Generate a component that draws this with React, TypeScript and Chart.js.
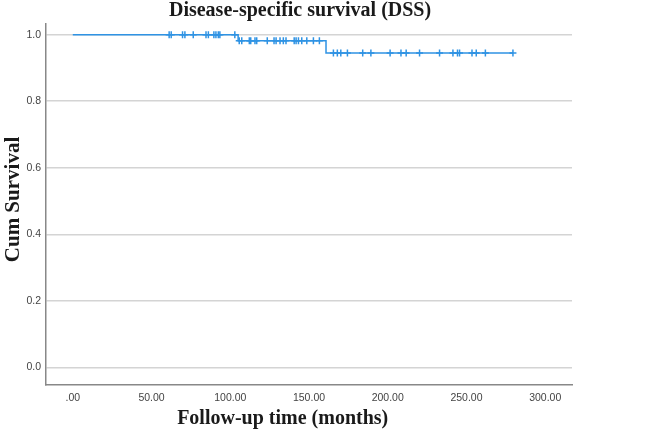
import React, { useEffect, useRef } from 'react';
import { Chart, registerables } from 'chart.js';

Chart.register(...registerables);

// Kaplan-Meier step curve (time in months, cumulative survival)
const stepTimes = [0, 105, 160.8, 279.5];
const stepSurvival = [1.0, 0.982, 0.945, 0.945];

// Censored observations on each survival level
const censorTimesLevel1 = [61.2, 62.5, 69.7, 71.2, 76.5, 84.6, 86.1, 89.6, 90.9, 92.4, 93.4, 102.9];
const censorTimesLevel2 = [105.7, 107.3, 112.1, 113, 115.7, 116.8, 123.5, 127.8, 129.1, 131.6, 133.7, 135.4, 140.6, 141.8, 143.3, 145.4, 148.6, 152.8, 156.6];
const censorTimesLevel3 = [165.5, 168, 170.2, 174.4, 184.1, 189.3, 201.5, 208.4, 211.7, 220.2, 232.9, 241.4, 244.3, 245.6, 253.5, 256.2, 262, 279.5];

const xTickValues = [0, 50, 100, 150, 200, 250, 300];
const xTickLabels = ['.00', '50.00', '100.00', '150.00', '200.00', '250.00', '300.00'];
const yTickValues = [0, 0.2, 0.4, 0.6, 0.8, 1.0];
const yTickLabels = ['0.0', '0.2', '0.4', '0.6', '0.8', '1.0'];

const chartTitle = 'Disease-specific survival (DSS)';
const xAxisTitle = 'Follow-up time (months)';
const yAxisTitle = 'Cum Survival';

const BLUE = '#2f93e4';

const titlesPlugin = {
  id: 'customTitles',
  afterDraw(chart: any) {
    const { ctx, chartArea } = chart;
    const w = chartArea.right - chartArea.left;
    ctx.save();
    ctx.fillStyle = '#1a1a1a';
    ctx.font = 'bold 20px "Liberation Serif", "Times New Roman", serif';
    ctx.textAlign = 'center';
    ctx.textBaseline = 'alphabetic';
    ctx.fillText(chartTitle, chartArea.left + w * 0.483, 16);
    ctx.fillText(xAxisTitle, chartArea.left + w * 0.45, chart.height - 6);
    ctx.font = 'bold 21px "Liberation Serif", "Times New Roman", serif';
    ctx.translate(14, (chartArea.top + chartArea.bottom) / 2 - 5);
    ctx.rotate(-Math.PI / 2);
    ctx.textBaseline = 'middle';
    ctx.fillText(yAxisTitle, 0, 0);
    ctx.restore();
  },
};

export default function App() {
  const ref = useRef<HTMLCanvasElement | null>(null);

  useEffect(() => {
    if (!ref.current) return;
    const censorStyle = {
      showLine: false,
      pointStyle: 'cross',
      pointRadius: 3.5,
      pointBorderWidth: 1.5,
      borderColor: BLUE,
      backgroundColor: BLUE,
    };
    const chart = new Chart(ref.current, {
      type: 'scatter',
      data: {
        datasets: [
          {
            data: stepTimes.map((t, i) => ({ x: t, y: stepSurvival[i] })),
            showLine: true,
            stepped: 'before',
            pointRadius: 0,
            borderColor: BLUE,
            borderWidth: 1.5,
            fill: false,
          } as any,
          { ...censorStyle, data: censorTimesLevel1.map((t) => ({ x: t, y: stepSurvival[0] })) } as any,
          { ...censorStyle, data: censorTimesLevel2.map((t) => ({ x: t, y: stepSurvival[1] })) } as any,
          { ...censorStyle, data: censorTimesLevel3.map((t) => ({ x: t, y: stepSurvival[2] })) } as any,
        ],
      },
      options: {
        animation: false,
        responsive: false,
        layout: { padding: { left: 0, top: 24, right: 97, bottom: 0 } },
        plugins: {
          legend: { display: false },
          title: { display: false },
          tooltip: { enabled: false },
        },
        scales: {
          x: {
            type: 'linear',
            min: -17,
            max: 317,
            afterBuildTicks: (scale: any) => {
              scale.ticks = xTickValues.map((v) => ({ value: v }));
            },
            afterFit: (scale: any) => {
              scale.height = 45;
            },
            ticks: {
              callback: (_v: any, i: number) => xTickLabels[i],
              font: { family: '"Liberation Sans", Arial, sans-serif', size: 10.5 },
              color: '#444',
              padding: 7,
              maxRotation: 0,
              autoSkip: false,
            },
            grid: { display: false, drawTicks: false },
            border: { display: true, color: '#888', width: 1.5 },
          },
          y: {
            type: 'linear',
            min: -0.053,
            max: 1.032,
            afterBuildTicks: (scale: any) => {
              scale.ticks = yTickValues.map((v) => ({ value: v }));
            },
            afterFit: (scale: any) => {
              scale.width = 46;
            },
            ticks: {
              callback: (_v: any, i: number) => yTickLabels[i],
              font: { family: '"Liberation Sans", Arial, sans-serif', size: 10.5 },
              color: '#444',
              padding: 5,
              autoSkip: false,
            },
            grid: { display: true, drawTicks: false, color: '#d4d4d4', lineWidth: 1.5 },
            border: { display: true, color: '#888', width: 1.5 },
          },
        },
      } as any,
      plugins: [titlesPlugin],
    });
    return () => chart.destroy();
  }, []);

  return (
    <div style={{ position: 'absolute', left: 0, top: 0, width: 669, height: 430 }}>
      <canvas ref={ref} width={669} height={430} style={{ display: 'block' }} />
    </div>
  );
}
